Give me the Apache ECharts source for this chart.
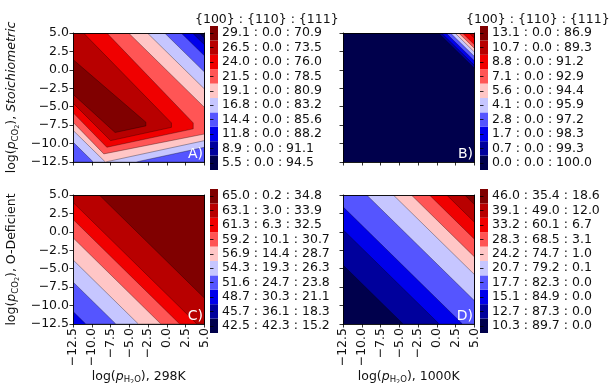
<!DOCTYPE html>
<html><head><meta charset="utf-8">
<script src="https://cdn.jsdelivr.net/npm/echarts@6/dist/echarts.min.js"></script>
<style>html,body{margin:0;padding:0;background:#fff}#c{width:611px;height:383px}</style>
</head><body><div id="c"></div>
<script>
// ---------------- data ----------------
const AXIS_MIN = -12.5, AXIS_MAX = 5.0, AXIS_STEP = 2.5;
// 10 contour level colours (seismic), lowest first
const LEVEL_COLORS = ['#00004c','#00009c','#0000eb','#5555ff','#c6c6ff','#ffc6c6','#ff5555','#f00000','#b80000','#800000'];

// colour-bar facet ratios {100}:{110}:{111}, top (highest level) to bottom
const A_F100 = [29.1,26.5,24.0,21.5,19.1,16.8,14.4,11.8,8.9,5.5];
const A_F110 = [0.0,0.0,0.0,0.0,0.0,0.0,0.0,0.0,0.0,0.0];
const A_F111 = [70.9,73.5,76.0,78.5,80.9,83.2,85.6,88.2,91.1,94.5];
const B_F100 = [13.1,10.7,8.8,7.1,5.6,4.1,2.8,1.7,0.7,0.0];
const B_F110 = [0.0,0.0,0.0,0.0,0.0,0.0,0.0,0.0,0.0,0.0];
const B_F111 = [86.9,89.3,91.2,92.9,94.4,95.9,97.2,98.3,99.3,100.0];
const C_F100 = [65.0,63.1,61.3,59.2,56.9,54.3,51.6,48.7,45.7,42.5];
const C_F110 = [0.2,3.0,6.3,10.1,14.4,19.3,24.7,30.3,36.1,42.3];
const C_F111 = [34.8,33.9,32.5,30.7,28.7,26.3,23.8,21.1,18.3,15.2];
const D_F100 = [46.0,39.1,33.2,28.3,24.2,20.7,17.7,15.1,12.7,10.3];
const D_F110 = [35.4,49.0,60.1,68.5,74.7,79.2,82.3,84.9,87.3,89.7];
const D_F111 = [18.6,12.0,6.7,3.1,1.0,0.1,0.0,0.0,0.0,0.0];

// Panel A: super-level regions (value >= level k, k = 1..9), vertices [log pH2O, log pCO2]
const A_REGIONS = [
  [[-12.5,-12.5],[5,-12.5],[5,4.3],[4.3,5],[-12.5,5]],
  [[-12.5,-12.5],[5,-12.5],[5,3.4],[3.4,5],[-12.5,5]],
  [[-12.5,-12.5],[5,-12.5],[5,1.9],[1.9,5],[-12.5,5]],
  [[-12.5,-9.8],[-9.8,-12.5],[-4.1,-12.5],[5,-10.5],[5,-0.3],[-0.3,5],[-12.5,5]],
  [[-12.5,-8.2],[-8.2,-12.5],[5,-9.6],[5,-2.6],[-2.6,5],[-12.5,5]],
  [[-12.5,-7.1],[-8.4,-11.4],[5,-8.7],[5,-5.1],[-5.1,5],[-12.5,5]],
  [[-12.5,-5.8],[-8.0,-10.5],[3.5,-8.0],[3.5,-7.2],[-8.0,5],[-12.5,5]],
  [[-12.5,-4.5],[-7.5,-9.6],[0.6,-7.8],[0.6,-7.2],[-11.1,5],[-12.5,5]],
  [[-12.5,-3.3],[-6.9,-8.5],[-2.8,-7.6],[-2.8,-7.1],[-12.5,1.4]]
];
// Panels B, C, D: contour boundaries are lines log pH2O + log pCO2 = c (value rises with c)
const B_BOUNDS = [5.2,5.6,6.2,6.8,7.4,7.9,8.4,9.3,9.8];        // levels 1..9
const C_BASE = 2;
const C_BOUNDS = [-23.3,-19.3,-16.3,-13.3,-10.8,-8.5,-4.0];   // levels 3..9
const D_BOUNDS = [-17.0,-12.2,-9.1,-4.35,-0.8,1.6,4.0,6.3,8.7]; // levels 1..9

// ---------------- helpers ----------------
const BOX = [[AXIS_MIN,AXIS_MIN],[AXIS_MAX,AXIS_MIN],[AXIS_MAX,AXIS_MAX],[AXIS_MIN,AXIS_MAX]];
function clipHalf(poly, f){
  const out=[]; const n=poly.length;
  for(let i=0;i<n;i++){
    const cur=poly[i], prev=poly[(i+n-1)%n];
    const fc=f(cur), fp=f(prev);
    const cross=()=>{const t=fp/(fp-fc);return [prev[0]+t*(cur[0]-prev[0]), prev[1]+t*(cur[1]-prev[1])];};
    if(fc>=0){ if(fp<0) out.push(cross()); out.push(cur); }
    else if(fp>=0) out.push(cross());
  }
  return out;
}
function bandRegions(bounds, base){
  const regs=[{poly:BOX, level:base, line:false}];
  bounds.forEach((c,i)=>{
    const poly=clipHalf(BOX, p=>p[0]+p[1]-c);
    if(poly.length>=3) regs.push({poly, level:base+1+i, line:true});
  });
  return regs;
}
const REGS = [
  [{poly:BOX, level:0, line:false}].concat(A_REGIONS.map((poly,i)=>({poly, level:i+1, line:true}))),
  bandRegions(B_BOUNDS, 0),
  bandRegions(C_BOUNDS, C_BASE),
  bandRegions(D_BOUNDS, 0)
];
const CB_LABELS = [[A_F100,A_F110,A_F111],[B_F100,B_F110,B_F111],[C_F100,C_F110,C_F111],[D_F100,D_F110,D_F111]]
  .map(([a,b,c]) => a.map((v,i)=>`${v.toFixed(1)} : ${b[i].toFixed(1)} : ${c[i].toFixed(1)}`).reverse());

// ---------------- layout ----------------
const FONT = 'DejaVu Sans';
const FS = 12.5;
const TXT = '#111';
const PLOT_POS = [[73,33],[343,33],[73,195],[343,195]];
const PLOT_W = 131.5, PLOT_H = 129;
const CB_POS = [[210,26],[480,26],[210,189],[480,189]];
const CB_W = 8, CB_H = 144;
const LETTERS = ['A)','B)','C)','D)'];

const rich = {
  n:{fontSize:FS, fontFamily:FONT, color:TXT},
  p:{fontSize:FS, fontFamily:FONT, color:TXT, fontStyle:'italic'},
  s:{fontSize:8.5, fontFamily:FONT, color:TXT, padding:[7,0,0,0]},
  t:{fontSize:6.5, fontFamily:FONT, color:TXT, padding:[11,0,0,0]},
  i:{fontSize:FS, fontFamily:FONT, color:TXT, fontStyle:'italic'}
};
const Y_NAMES = ['{n|log(}{p|p}{s|CO}{t|2}{n|), }{i|Stoichiometric}', '', '{n|log(}{p|p}{s|CO}{t|2}{n|), O-Deficient}', ''];
const X_NAMES = ['', '', '{n|log(}{p|p}{s|H}{t|2}{s|O}{n|), 298K}', '{n|log(}{p|p}{s|H}{t|2}{s|O}{n|), 1000K}'];
const fmt = v => v.toFixed(1).replace('-', '\u2212');

const grid=[], xAxis=[], yAxis=[], series=[], graphic=[];
const lineStyle = {color:'#000', width:0.9};
const tickStyle = {show:true, length:3.5, lineStyle:{color:'#000', width:0.8}};
for(let k=0;k<4;k++){
  const [l,t]=PLOT_POS[k];
  grid.push({left:l, top:t, width:PLOT_W, height:PLOT_H, containLabel:false, outerBoundsMode:'none'});
  const gi=grid.length-1;
  const base = {gridIndex:gi, type:'value', min:AXIS_MIN, max:AXIS_MAX, interval:AXIS_STEP, z:10, splitLine:{show:false}};
  xAxis.push(Object.assign({}, base, {position:'bottom',
    axisLine:{show:true,onZero:false,lineStyle}, axisTick:tickStyle,
    axisLabel:{show:k>=2, rotate:90, fontSize:FS, fontFamily:FONT, color:TXT, margin:4, formatter:fmt},
    name:X_NAMES[k], nameLocation:'middle', nameGap:42, nameTextStyle:{rich}}));
  const xi=xAxis.length-1;
  xAxis.push(Object.assign({}, base, {position:'top', axisLine:{show:true,onZero:false,lineStyle}, axisTick:{show:false}, axisLabel:{show:false}}));
  yAxis.push(Object.assign({}, base, {position:'left',
    axisLine:{show:true,onZero:false,lineStyle}, axisTick:tickStyle,
    axisLabel:{show:k%2===0, fontSize:FS, fontFamily:FONT, color:TXT, margin:4, formatter:fmt},
    name:Y_NAMES[k], nameLocation:'middle', nameGap:52, nameTextStyle:{rich}}));
  const yi=yAxis.length-1;
  yAxis.push(Object.assign({}, base, {position:'right', axisLine:{show:true,onZero:false,lineStyle}, axisTick:{show:false}, axisLabel:{show:false}}));
  const regs = REGS[k];
  series.push({type:'custom', xAxisIndex:xi, yAxisIndex:yi, clip:true, silent:true, animation:false,
    data: regs.map((r,i)=>[AXIS_MIN, AXIS_MIN, i]),
    renderItem:(params, api)=>{
      const r = regs[api.value(2)];
      return {type:'polygon', shape:{points:r.poly.map(p=>api.coord(p))},
        style:{fill:LEVEL_COLORS[r.level], stroke: r.line ? 'rgba(0,0,0,0.55)' : null, lineWidth:0.6}};
    }});
  // colour bar
  const [cl,ct]=CB_POS[k];
  grid.push({left:cl, top:ct, width:CB_W, height:CB_H, containLabel:false, outerBoundsMode:'none'});
  const cg=grid.length-1;
  xAxis.push({gridIndex:cg, type:'value', min:0, max:1, show:false});
  const cxi=xAxis.length-1;
  yAxis.push({gridIndex:cg, type:'category', position:'right', data:CB_LABELS[k], z:10,
    axisLine:{show:false}, axisTick:{show:true, alignWithLabel:true, length:3.5, lineStyle:{color:'#000', width:0.8}},
    axisLabel:{fontSize:FS, fontFamily:FONT, color:TXT, margin:4, interval:0}, splitLine:{show:false}});
  const cyi=yAxis.length-1;
  series.push({type:'bar', xAxisIndex:cxi, yAxisIndex:cyi, barWidth:'100%', barCategoryGap:'0%', silent:true, animation:false,
    data: LEVEL_COLORS.map(c=>({value:1, itemStyle:{color:c}}))});
  graphic.push({type:'text', z:100, style:{text:LETTERS[k], x:l+PLOT_W-1.5, y:t+PLOT_H-0.5, align:'right', verticalAlign:'bottom',
    fontSize:14, fontFamily:FONT, fill:'#fff'}});
}
graphic.push({type:'text', style:{text:'{100} : {110} : {111}', x:195, y:13, fontSize:FS, fontFamily:FONT, fill:TXT}});
graphic.push({type:'text', style:{text:'{100} : {110} : {111}', x:466, y:13, fontSize:FS, fontFamily:FONT, fill:TXT}});

const chart = echarts.init(document.getElementById('c'), null, {renderer:'canvas'});
chart.setOption({backgroundColor:'#fff', animation:false, grid, xAxis, yAxis, series, graphic});
</script></body></html>
